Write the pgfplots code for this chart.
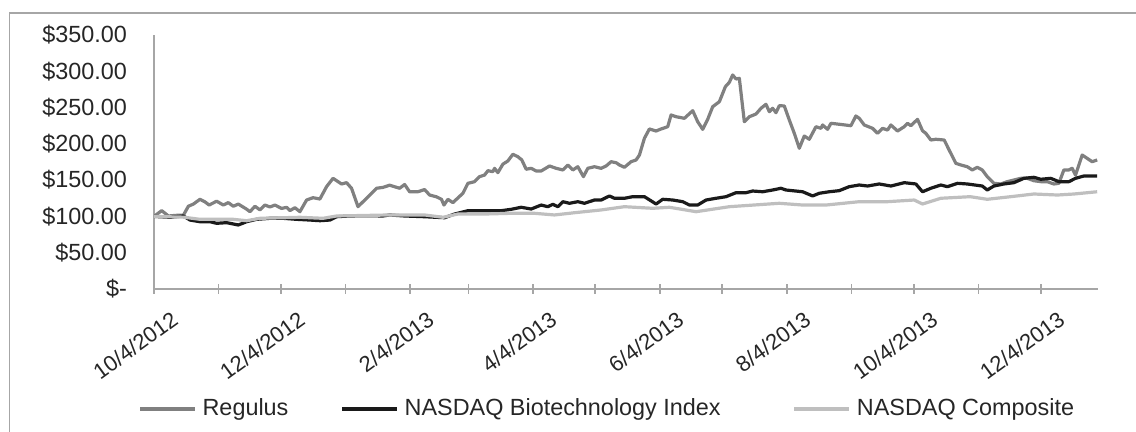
\documentclass[border=0pt]{standalone}
\usepackage{pgfplots}
\pgfplotsset{compat=1.18}
\usepackage{fontspec}
\setmainfont{Liberation Sans}
\definecolor{regc}{HTML}{808080}
\definecolor{bioc}{HTML}{1A1A1A}
\definecolor{comc}{HTML}{BFBFBF}
\definecolor{axc}{HTML}{A6A6A6}
\definecolor{txt}{HTML}{262626}
\begin{document}
\begin{tikzpicture}
\path[use as bounding box] (0pt,0pt) rectangle (568pt,216pt);
\draw[axc, line width=0.8pt] (4.75pt,-1pt) -- (4.75pt,209.5pt) -- (570pt,209.5pt);
\begin{axis}[
  at={(77pt,71.5pt)}, anchor=south west,
  scale only axis, width=472pt, height=127pt,
  xmin=0, xmax=453.5, ymin=0, ymax=350,
  axis x line=bottom, axis y line=left,
  axis line style={axc, line width=0.8pt, -},
  xtick={0,31,61,92,123,151,182,212,243,273,304,335,365,396,426},
  xticklabels={10/4/2012,,12/4/2012,,2/4/2013,,4/4/2013,,6/4/2013,,8/4/2013,,10/4/2013,,12/4/2013},
  xtick align=center, major tick length=5pt,
  xtick style={axc, line width=0.8pt},
  ytick={0,50,...,350},
  yticklabels={\$-,\$50.00,\$100.00,\$150.00,\$200.00,\$250.00,\$300.00,\$350.00},
  ytick style={draw=none},
  yticklabel style={font=\fontsize{11.7}{13}\selectfont, text=txt, xshift=-7.5pt},
  xticklabel style={font=\fontsize{11}{12}\selectfont, text=txt, rotate=36, anchor=north east, inner sep=0pt, xshift=2pt, yshift=-11pt},
  legend columns=3,
  legend style={at={(axis description cs:0,0)}, anchor=west, xshift=-8pt, yshift=-60pt,
    draw=none, fill=none, inner sep=0pt,
    font=\fontsize{11.7}{13}\selectfont, text=txt,
    nodes={inner xsep=3pt},
    /tikz/every even column/.append style={column sep=23pt}},
  legend image code/.code={\draw[#1] (0pt,0pt) -- (27.5pt,0pt);},
  every axis plot/.append style={line width=1.6pt, line join=round},
]
\addplot[regc] coordinates {
(0,100)(3.7,108)(6.9,100.6)(10.9,101.5)(14.1,101.5)(16.5,114)(18.9,117)(22.1,123.6)(24.5,120)(26.5,115.7)
(30.1,121)(33.3,115.7)(35.7,119)(38.1,114)(40.5,117)(44.5,110)(46.1,106.5)(48.5,114)(50.9,109)(53.3,115.7)
(55.7,113)(58.1,115.7)(61.3,111)(63.7,112.5)(65.3,108)(67.7,112)(70.1,106.5)(73.3,122.6)(76.4,125.8)(79.7,124)
(82.9,141)(86.0,152.5)(90.1,144.7)(92.5,146.5)(94.9,138.8)(98.0,113.4)(102.1,125)(106.9,138.8)(110.0,140)(113.2,143)
(118.0,138.8)(120.4,144)(122.8,134)(126.8,134)(130.0,137)(132.4,129.5)(135.7,127)(138.1,123.6)(139.3,115.7)(141.2,123.6)
(143.6,119)(145.3,123.6)(148.4,131.9)(150.8,145.6)(154.0,147.9)(156.4,154.8)(158.8,157)(160.4,163)(162.8,161.7)(163.6,166.3)
(165.2,160.3)(167.6,172)(170.0,176.4)(172.4,185.6)(174.8,182.3)(176.7,177.8)(178.8,165)(181.2,166.3)(183.6,162.6)(186.0,162.6)
(190.0,169.5)(193.2,166.3)(196.4,164)(198.8,170.9)(201.2,164)(203.6,168.5)(206.3,154.8)(208.4,166.3)(211.6,168.5)(214.8,166.3)
(217.2,169.5)(219.6,175.4)(222.0,174)(223.6,170.9)(226.0,167.7)(229.2,175.4)(231.6,177.8)(233.2,184.6)(235.6,207.7)(238.0,220.5)
(241.2,217.7)(243.6,220.5)(246.8,223.6)(248.4,239.8)(250.8,237.4)(254.8,235.2)(258.8,245.7)(261.2,230.5)(263.6,220)(266.0,233.8)
(268.4,251.2)(271.6,258.1)(274.5,278.8)(276.4,284.8)(278.0,294.9)(279.6,289.4)(281.2,290.3)(283.6,230.5)(286.0,237.4)(289.2,241.1)
(291.6,249)(294.0,254.5)(295.6,244.3)(297.2,249)(298.8,242.9)(300.4,252.6)(302.8,252.2)(305.2,232.9)(307.6,214.5)(310.0,193.9)
(312.4,210.8)(314.8,206.3)(318.0,223.6)(320.4,221.4)(321.2,226)(323.6,220)(325.2,228.3)(329.2,227)(334.8,225)(337.2,238.4)
(338.8,235.2)(341.2,226)(345.2,221.4)(347.6,214.5)(350.0,221.4)(352.4,219)(354.0,226)(357.2,217.7)(360.4,223.6)(362.0,228.3)
(363.6,225)(366.8,233.8)(369.2,218)(370.8,214.5)(373.2,205.3)(375.6,206.3)(379.6,205.3)(382.0,191.5)(385.2,173.2)(387.6,170.9)
(390.7,168.5)(393.1,164)(395.5,167.7)(397.9,164)(400.3,154.8)(403.5,145.6)(406.8,144.7)(409.9,147.9)(413.1,150.2)(416.4,152.5)
(419.5,152.5)(422.7,149.2)(426.0,147.9)(429.1,147.9)(432.3,144.7)(434.7,145.6)(437.1,164)(439.5,164)(441.1,166.3)(442.7,157)
(445.9,184.6)(448.3,180)(450.7,175.4)(453.1,177.8)
};
\addlegendentry{Regulus}
\addplot[bioc] coordinates {
(0,100)(7.7,98.8)(14.1,100.6)(17.3,95)(22.1,92.7)(26.9,92.7)(30.1,90.5)(34.9,91.4)(40.5,88.2)(44.5,92.7)
(49.3,96)(55.7,97.4)(62.0,97.4)(68.5,96)(74.9,95)(79.7,94.1)(84.5,95)(87.7,99.6)(94.0,100.6)(102.1,101)
(110.0,100.6)(113.2,102)(120.4,100.6)(130.0,99.6)(139.6,98.2)(144.4,103.3)(150.8,107.9)(158.8,107.9)(166.8,107.9)(171.6,109.8)
(176.4,112.6)(181.2,110.2)(186.0,115.7)(189.2,113.4)(191.6,116.7)(194.0,113.4)(196.4,120.3)(199.6,118.1)(203.6,120.3)(206.8,118.1)
(211.6,122.6)(214.8,122.6)(218.8,128.2)(221.2,125)(226.0,125)(230.0,127.2)(235.6,127.2)(241.2,117.1)(244.4,123.6)(249.2,122.6)
(254.0,120.3)(257.2,115.7)(261.2,115.7)(265.2,122.6)(270.0,125)(274.8,127.2)(279.6,132.7)(284.4,132.7)(287.6,135)(292.4,134)
(297.2,136.4)(301.2,138.8)(303.6,136.4)(311.6,134)(316.4,128.2)(319.6,131.9)(324.4,134)(329.2,135.5)(334.0,141)(338.8,143.3)
(342.8,141.9)(348.4,144.7)(354.0,141.9)(360.4,146.5)(366.0,144.7)(369.2,134)(373.2,138.8)(378.0,143.3)(381.2,141)(386.0,145.6)
(390.7,144.7)(397.9,141.9)(400.3,136.4)(403.5,141.9)(408.3,144.7)(413.1,146.5)(417.9,152.5)(422.7,153.9)(426.0,151.2)(430.8,152.5)
(434.7,147.9)(439.5,147.9)(442.7,152.5)(446.7,155.7)(453.1,155.7)
};
\addlegendentry{NASDAQ Biotechnology Index\hspace*{10pt}}
\addplot[comc] coordinates {
(0,100)(14.1,99)(22.1,96)(38.1,96)(44.5,94.1)(50.9,97.4)(70.1,98.8)(81.2,97.4)(87.7,100.6)(113.2,102)
(130.0,102)(138.8,98.8)(146.0,103.3)(158.8,103.3)(171.6,104.3)(182.8,104.3)(192.4,102)(202.0,105.1)(214.8,108.9)(226.0,113.4)
(239.6,111.2)(247.6,112.6)(260.4,106.5)(276.4,113.4)(300.4,118.1)(311.6,115.7)(322.8,115.7)(338.8,120.3)(352.4,120.3)(365.2,122.6)
(369.2,117.1)(378.0,125)(392.1,127.2)(400.3,123.6)(411.6,127.2)(422.7,130.9)(434.0,129.5)(442.0,130.9)(453.1,134)
};
\addlegendentry{NASDAQ Composite}
\end{axis}
\end{tikzpicture}
\end{document}
